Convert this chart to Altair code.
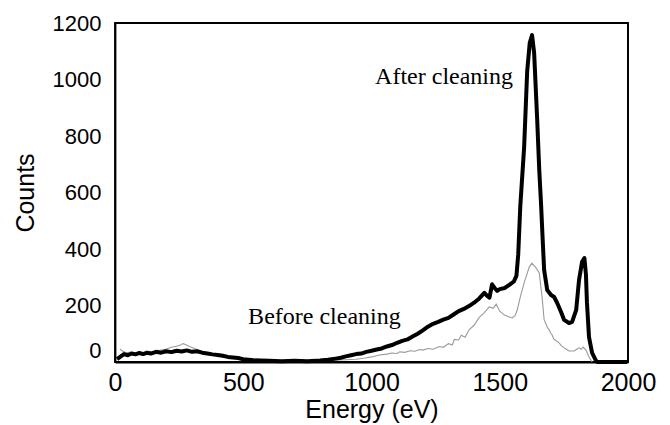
import altair as alt
import pandas as pd

# After cleaning (thick black)
after_e = [8, 20, 35, 50, 65, 80, 95, 110, 125, 140, 160, 180, 200, 220, 240, 260, 280, 300,
           320, 340, 360, 380, 400, 420, 440, 460, 480, 500, 520, 540, 570, 600, 650, 700, 750,
           800, 830, 860, 880, 900, 920, 940, 960, 980, 1000, 1020, 1040, 1060, 1080, 1100,
           1120, 1140, 1160, 1180, 1200, 1220, 1240, 1260, 1280, 1300, 1320, 1340, 1360, 1380,
           1400, 1420, 1440, 1450, 1460, 1470, 1480, 1490, 1500, 1520, 1540, 1555, 1565, 1572,
           1580, 1595, 1607, 1617, 1626, 1634, 1646, 1654, 1661, 1667, 1673, 1685, 1700, 1712,
           1724, 1739, 1751, 1770, 1782, 1798, 1809, 1821, 1830, 1836, 1840, 1848, 1860, 1875,
           1880, 1900, 1950, 1996]
after_c = [10, 18, 28, 24, 30, 27, 32, 28, 33, 30, 36, 33, 38, 35, 40, 37, 41, 36,
           38, 33, 30, 27, 25, 22, 18, 16, 14, 10, 8, 6, 5, 4, 3, 4, 3,
           5, 8, 12, 15, 20, 24, 28, 30, 36, 40, 44, 48, 55, 60, 68,
           75, 80, 90, 100, 112, 125, 135, 142, 150, 156, 168, 180, 188, 198,
           210, 225, 245, 235, 228, 275, 262, 252, 258, 262, 275, 285, 305, 380,
           550, 760, 1030, 1130, 1157, 1095, 857, 680, 560, 440, 326, 255, 237, 230,
           209, 177, 149, 138, 142, 184, 290, 355, 368, 310, 210, 88, 32, 5,
           0, 0, 0, 0]

# Before cleaning (thin grey)
before_e = [19, 30, 45, 60, 80, 100, 120, 140, 160, 180, 200, 220, 240, 255, 265, 275, 290,
            310, 330, 350, 370, 390, 420, 450, 480, 506, 540, 580, 620, 680, 740, 800, 850,
            900, 940, 975, 1000, 1031, 1060, 1080, 1100, 1110, 1130, 1150, 1170, 1187, 1200,
            1220, 1240, 1265, 1280, 1300, 1315, 1323, 1340, 1350, 1365, 1381, 1400, 1420,
            1440, 1459, 1475, 1486, 1500, 1518, 1535, 1549, 1560, 1568, 1580, 1595, 1615,
            1625, 1640, 1654, 1665, 1673, 1685, 1693, 1700, 1704, 1710, 1716, 1725, 1732,
            1740, 1751, 1760, 1770, 1790, 1800, 1809, 1818, 1825, 1836, 1848, 1860]
before_c = [46, 38, 33, 35, 31, 34, 32, 36, 38, 42, 46, 52, 56, 60, 65, 62, 55,
            48, 40, 34, 30, 25, 21, 18, 12, 7, 5, 4, 3, 4, 3, 4, 6,
            8, 10, 14, 18, 25, 28, 32, 30, 36, 34, 40, 38, 44, 42,
            48, 45, 55, 52, 65, 60, 80, 78, 95, 88, 115, 130, 158,
            175, 195, 190, 205, 180, 166, 160, 156, 165, 184, 230, 280, 336,
            350, 335, 315, 230, 150, 124, 113, 100, 96, 82, 78, 72, 67,
            58, 50, 45, 39, 39, 45, 50, 45, 53, 42, 18, 0]

labels = ["After cleaning", "Before cleaning"]
label_e = [1014, 519]
label_c = [985, 135]

W, H = 513, 339
FRAME = 1.8

after_df = pd.DataFrame({"E": after_e, "C": after_c, "i": range(len(after_e))})
before_df = pd.DataFrame({"E": before_e, "C": before_c, "i": range(len(before_e))})
label_df = pd.DataFrame({"E": label_e, "C": label_c, "t": labels})

xscale = alt.Scale(domain=[0, 2000], nice=False, zero=False)
yscale = alt.Scale(domain=[0, 1200], nice=False)

xaxis = alt.Axis(title="Energy (eV)", values=[0, 500, 1000, 1500, 2000], format="d",
                 grid=False, ticks=False, domain=True, domainColor="#000000",
                 domainWidth=FRAME, domainOpacity=1, labelFlush=False,
                 labelFontSize=25, labelFont="Liberation Sans",
                 labelColor="black", labelPadding=8, titleFontSize=25,
                 titleFont="Liberation Sans", titleFontWeight="normal", titleColor="black",
                 titlePadding=2)
yaxis = alt.Axis(title="Counts", values=[0, 200, 400, 600, 800, 1000, 1200], format="d",
                 grid=False, ticks=False, domain=True, domainColor="#000000",
                 domainWidth=FRAME, domainOpacity=1, labelFlush=False,
                 labelBaseline=alt.condition("datum.value == 0", alt.value("bottom"),
                                             alt.value("middle")),
                 labelFontSize=22, labelFont="Liberation Sans",
                 labelColor="black", labelPadding=14, titleFontSize=25,
                 titleFont="Liberation Sans", titleFontWeight="normal", titleColor="black",
                 titlePadding=14)

before = alt.Chart(before_df).mark_line(color="#9a9a9a", strokeWidth=1.1).encode(
    x=alt.X("E:Q", scale=xscale, axis=xaxis),
    y=alt.Y("C:Q", scale=yscale, axis=yaxis),
    order="i:Q",
)
after = alt.Chart(after_df).mark_line(color="black", strokeWidth=4, strokeJoin="round").encode(
    x=alt.X("E:Q", scale=xscale),
    y=alt.Y("C:Q", scale=yscale),
    order="i:Q",
)
text = alt.Chart(label_df).mark_text(font="Liberation Serif", fontSize=24, align="left",
                                     baseline="alphabetic", color="black").encode(
    x=alt.X("E:Q", scale=xscale),
    y=alt.Y("C:Q", scale=yscale),
    text="t:N",
)

# frame: top and right edges at the ends of the axis domains
one = pd.DataFrame({"k": [0]})
top_edge = alt.Chart(one).mark_rule(color="#000000", strokeWidth=FRAME, opacity=1).encode(
    x=alt.datum(0, scale=xscale), x2=alt.datum(2000), y=alt.datum(1200, scale=yscale))
right_edge = alt.Chart(one).mark_rule(color="#000000", strokeWidth=FRAME, opacity=1).encode(
    x=alt.datum(2000, scale=xscale), y=alt.datum(0, scale=yscale), y2=alt.datum(1200))

chart = alt.layer(before, after, text, top_edge, right_edge).properties(
    width=W, height=H,
    autosize=alt.AutoSizeParams(type="none"),
    padding={"left": 107, "top": 15, "right": 30, "bottom": 70},
).configure(background="white").configure_view(stroke="#000000", strokeWidth=FRAME)

chart.save("out.html", embed_options={"renderer": "svg", "actions": False})
